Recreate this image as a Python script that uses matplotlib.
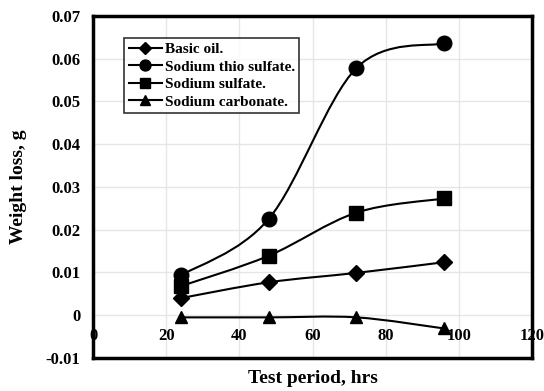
import numpy as np
import matplotlib.pyplot as plt
from matplotlib.path import Path
from matplotlib.patches import PathPatch
from matplotlib.lines import Line2D

plt.rcParams['font.family'] = 'Liberation Serif'
plt.rcParams['font.weight'] = 'bold'

hours = [24, 48, 72, 96]
basic_oil = [0.0040, 0.0077, 0.0099, 0.0124]
thio_sulfate = [0.0093, 0.0225, 0.0578, 0.0636]
sulfate = [0.0068, 0.0139, 0.0240, 0.0273]
carbonate = [-0.0005, -0.0005, -0.0005, -0.0031]

series = [
    ('Basic oil.', basic_oil, 'D', 8),
    ('Sodium thio sulfate.', thio_sulfate, 'o', 10.5),
    ('Sodium sulfate.', sulfate, 's', 9.5),
    ('Sodium carbonate.', carbonate, '^', 9),
]


def smooth_path(x, y):
    # cubic bezier through the points (catmull-rom style control points)
    p = np.column_stack([x, y]).astype(float)
    n = len(p)
    verts = [p[0]]
    codes = [Path.MOVETO]
    for i in range(n - 1):
        p0 = p[i - 1] if i > 0 else p[i]
        p3 = p[i + 2] if i + 2 < n else p[i + 1]
        c1 = p[i] + (p[i + 1] - p0) / 6
        c2 = p[i + 1] - (p3 - p[i]) / 6
        verts += [c1, c2, p[i + 1]]
        codes += [Path.CURVE4] * 3
    return Path(verts, codes)


fig = plt.figure(figsize=(5.44, 3.91), dpi=100)
ax = fig.add_axes([0.171, 0.0844, 0.807, 0.875])

handles = []
for label, vals, mk, ms in series:
    ax.add_patch(PathPatch(smooth_path(hours, vals), fill=False, edgecolor='black',
                           lw=1.5, zorder=3))
    ax.plot(hours, vals, linestyle='none', marker=mk, markersize=ms, color='black', zorder=4)
    handles.append(Line2D([], [], color='black', lw=1.5, marker=mk, markersize=ms * 0.75,
                          label=label))

ax.set_xlim(0, 120)
ax.set_ylim(-0.01, 0.07)
ax.set_xticks(np.arange(0, 121, 20))
ax.set_yticks(np.arange(-0.01, 0.0701, 0.01))
ax.set_yticklabels(['-0.01', '0', '0.01', '0.02', '0.03', '0.04', '0.05', '0.06', '0.07'])
ax.grid(True, color='#e6e6e6', lw=1)
ax.set_axisbelow(True)

# horizontal axis crosses at zero, frame stays at -0.01
ax.spines['bottom'].set_position(('data', 0))
ax.spines['bottom'].set_visible(False)
ax.axhline(-0.01, color='black', lw=2.5, clip_on=False, zorder=5)
for s in ['left', 'right', 'top']:
    ax.spines[s].set_linewidth(2.5)
ax.tick_params(axis='both', length=0, labelsize=12)
ax.tick_params(axis='x', pad=9)
ax.tick_params(axis='y', pad=9)
for t in ax.get_xticklabels() + ax.get_yticklabels():
    t.set_fontweight('bold')

ax.set_xlabel('Test period, hrs', fontsize=14, fontweight='bold')
ax.xaxis.set_label_coords(0.5, -0.035)
ax.set_ylabel('Weight loss, g', fontsize=14, fontweight='bold')
ax.yaxis.set_label_coords(-0.15, 0.5)

leg = ax.legend(handles=handles, loc='upper left', bbox_to_anchor=(0.0706, 0.936),
                frameon=True, fancybox=False, edgecolor='black',
                handlelength=2.2, handletextpad=0.15, labelspacing=0.25,
                borderpad=0.3, borderaxespad=0, prop={'weight': 'bold', 'size': 11})
leg.get_frame().set_linewidth(1.2)

fig.savefig('out.png', dpi=100)
